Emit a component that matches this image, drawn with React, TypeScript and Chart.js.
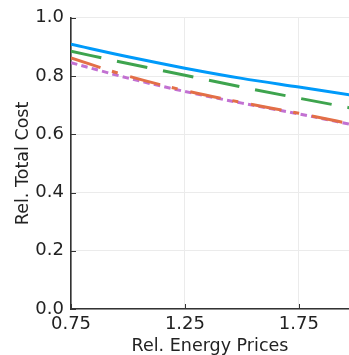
import React, { useEffect, useRef } from "react";
import { Chart, registerables } from "chart.js";

Chart.register(...registerables);

const energyPrices = [0.75, 1.0, 1.25, 1.5, 1.75, 2.0];
const costSolid = [0.909, 0.866, 0.827, 0.792, 0.762, 0.732];
const costDashDot = [0.862, 0.8, 0.75, 0.709, 0.672, 0.632];
const costDash = [0.885, 0.843, 0.803, 0.762, 0.724, 0.687];
const costDot = [0.846, 0.793, 0.747, 0.707, 0.67, 0.63];

const xTicks = [0.75, 1.25, 1.75];
const yTicks = [0, 0.2, 0.4, 0.6, 0.8, 1.0];

const FONT = "'DejaVu Sans', sans-serif";
const TEXT = "#222";
const AXIS = "#333";
const GRID = "#ebebeb";

const pts = (ys: number[]) => energyPrices.map((x, i) => ({ x, y: ys[i] }));

const innerTicks = {
  id: "innerTicks",
  afterDraw(chart: any) {
    const { ctx, chartArea, scales } = chart;
    ctx.save();
    ctx.strokeStyle = AXIS;
    ctx.lineWidth = 1;
    ctx.beginPath();
    for (const v of xTicks) {
      const px = Math.round(scales.x.getPixelForValue(v)) + 0.5;
      ctx.moveTo(px, chartArea.bottom);
      ctx.lineTo(px, chartArea.bottom - 5);
    }
    for (const v of yTicks) {
      const py = Math.round(scales.y.getPixelForValue(v)) + 0.5;
      ctx.moveTo(chartArea.left, py);
      ctx.lineTo(chartArea.left + 5, py);
    }
    ctx.stroke();
    ctx.restore();
  },
};

export default function App() {
  const ref = useRef<HTMLCanvasElement>(null);
  useEffect(() => {
    if (!ref.current) return;
    const lw = 3;
    const chart = new Chart(ref.current, {
      type: "line",
      data: {
        datasets: [
          { data: pts(costSolid), borderColor: "#009AFA", borderWidth: lw, pointRadius: 0, cubicInterpolationMode: "monotone" },
          { data: pts(costDashDot), borderColor: "#E36F47", borderWidth: lw, pointRadius: 0, borderDash: [31, 12, 6, 13], cubicInterpolationMode: "monotone" },
          { data: pts(costDash), borderColor: "#3EA44E", borderWidth: lw, pointRadius: 0, borderDash: [31, 16], cubicInterpolationMode: "monotone" },
          { data: pts(costDot), borderColor: "#C271D2", borderWidth: lw, pointRadius: 0, borderDash: [6.5, 4.2], cubicInterpolationMode: "monotone" },
        ],
      },
      options: {
        animation: false,
        responsive: false,
        layout: { padding: { top: 17, right: 0, left: 0, bottom: 0 } },
        plugins: { legend: { display: false }, tooltip: { enabled: false } },
        scales: {
          x: {
            type: "linear",
            min: 0.75,
            max: 1.97,
            afterBuildTicks: (s: any) => {
              s.ticks = xTicks.map((value) => ({ value }));
            },
            afterFit: (s: any) => {
              s.height = 46;
            },
            ticks: {
              autoSkip: false,
              maxRotation: 0,
              minRotation: 0,
              padding: 5,
              color: TEXT,
              font: { family: FONT, size: 18 },
              callback: (v: any) => Number(v).toFixed(2),
            },
            grid: { color: GRID, lineWidth: 1, drawTicks: false },
            border: { color: AXIS, width: 1.6 },
            title: {
              display: true,
              text: "Rel. Energy Prices",
              color: TEXT,
              font: { family: FONT, size: 17.5, lineHeight: 1 },
              padding: { top: 0, bottom: 0 },
            },
          },
          y: {
            type: "linear",
            min: 0,
            max: 1,
            afterBuildTicks: (s: any) => {
              s.ticks = yTicks.map((value) => ({ value }));
            },
            afterFit: (s: any) => {
              s.width = 71;
            },
            ticks: {
              padding: 7,
              color: TEXT,
              font: { family: FONT, size: 18 },
              callback: (v: any) => Number(v).toFixed(1),
            },
            grid: { color: GRID, lineWidth: 1, drawTicks: false },
            border: { color: AXIS, width: 1.6 },
            title: {
              display: true,
              text: "Rel. Total Cost",
              color: TEXT,
              font: { family: FONT, size: 17.5, lineHeight: 1 },
              padding: { top: 15, bottom: 0 },
            },
          },
        },
      },
      plugins: [innerTicks],
    });
    return () => chart.destroy();
  }, []);
  return (
    <div style={{ position: "fixed", left: 0, top: 0, width: 349, height: 355, background: "#fff" }}>
      <canvas ref={ref} width={349} height={355} style={{ width: 349, height: 355 }} />
    </div>
  );
}
